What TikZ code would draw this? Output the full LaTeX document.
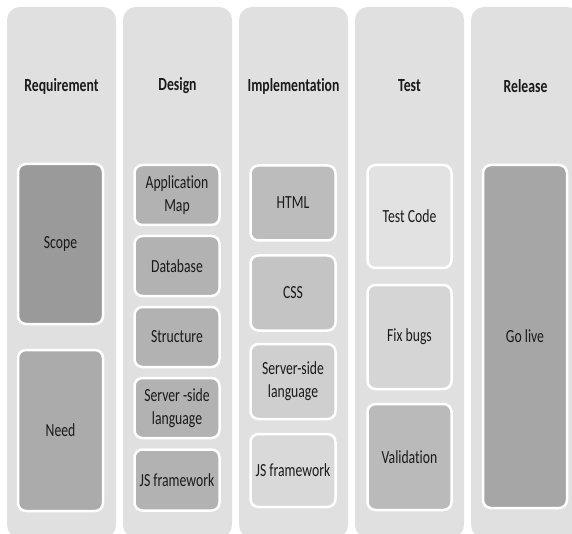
\documentclass[tikz,border=0pt]{standalone}
\usepackage{fontspec}
\setmainfont{Carlito}[FakeStretch=0.74,Ligatures=NoCommon]
\definecolor{colbg}{HTML}{E0E0E0}
\definecolor{txt}{HTML}{1A1A1A}
\definecolor{cScope}{HTML}{9A9A9A}
\definecolor{cNeed}{HTML}{ABABAB}
\definecolor{cDesign}{HTML}{B2B2B2}
\definecolor{cHtml}{HTML}{BCBCBC}
\definecolor{cCss}{HTML}{C4C4C4}
\definecolor{cServer}{HTML}{CFCFCF}
\definecolor{cJs}{HTML}{D9D9D9}
\definecolor{cTestCode}{HTML}{E2E2E2}
\definecolor{cFix}{HTML}{D5D5D5}
\definecolor{cValid}{HTML}{BABABA}
\definecolor{cGo}{HTML}{A6A6A6}
\begin{document}
\begin{tikzpicture}[x=1pt,y=-1pt,
  column/.style={fill=colbg, draw=none, rounded corners=13pt},
  title/.style={text=txt, font=\fontsize{18.5}{22}\selectfont\bfseries, anchor=center},
  box/.style={draw=white, line width=2.5pt, rounded corners=8pt, text=txt,
    font=\fontsize{18.5}{23}\selectfont, align=center, inner sep=0pt}]
\useasboundingbox (0,0) rectangle (572,534);
\fill[white] (0,0) rectangle (572,534);
\begin{scope}
\clip (0,0) rectangle (572,534);
\foreach \i in {0,...,4}{
  \path[column] (7+116*\i,7) rectangle (116+116*\i,538);
}
\end{scope}
% titles
\node[title] (t1) at (61.5,86) {Requirement};
\node[title] (t2) at (177.5,86) {Design};
\node[title] (t3) at (293.5,86) {Implementation};
\node[title] (t4) at (409.5,86) {Test};
\node[title] (t5) at (525.5,86) {Release};
% requirement
\node[box, fill=cScope, minimum width=85pt, minimum height=160pt] (scope) at (60.5,244) {Scope};
\node[box, fill=cNeed, minimum width=85pt, minimum height=161pt] (need) at (60.5,430.5) {Need};
% design
\node[box, fill=cDesign, minimum width=85pt, minimum height=60pt] (appmap) at (177,195) {Application\\Map};
\node[box, fill=cDesign, minimum width=85pt, minimum height=60pt] (db) at (177,266) {Database};
\node[box, fill=cDesign, minimum width=85pt, minimum height=60pt] (struct) at (177,337) {Structure};
\node[box, fill=cDesign, minimum width=85pt, minimum height=60pt] (dserver) at (177,408) {Server -side\\language};
\node[box, fill=cDesign, minimum width=85pt, minimum height=61pt] (djs) at (177,480) {JS framework};
% implementation
\node[box, fill=cHtml, minimum width=85pt, minimum height=75pt] (html) at (293,203) {HTML};
\node[box, fill=cCss, minimum width=85pt, minimum height=75pt] (css) at (293,293) {CSS};
\node[box, fill=cServer, minimum width=85pt, minimum height=75pt] (iserver) at (293,381.5) {Server-side\\language};
\node[box, fill=cJs, minimum width=85pt, minimum height=73pt] (ijs) at (293,470.5) {JS framework};
% test
\node[box, fill=cTestCode, minimum width=84pt, minimum height=103pt] (testcode) at (409.5,216.5) {Test Code};
\node[box, fill=cFix, minimum width=84pt, minimum height=104pt] (fix) at (409.5,337) {Fix bugs};
\node[box, fill=cValid, minimum width=84pt, minimum height=106pt] (valid) at (409.5,457) {Validation};
% release
\node[box, fill=cGo, minimum width=84pt, minimum height=343pt] (golive) at (525,336.5) {Go live};
\end{tikzpicture}
\end{document}
